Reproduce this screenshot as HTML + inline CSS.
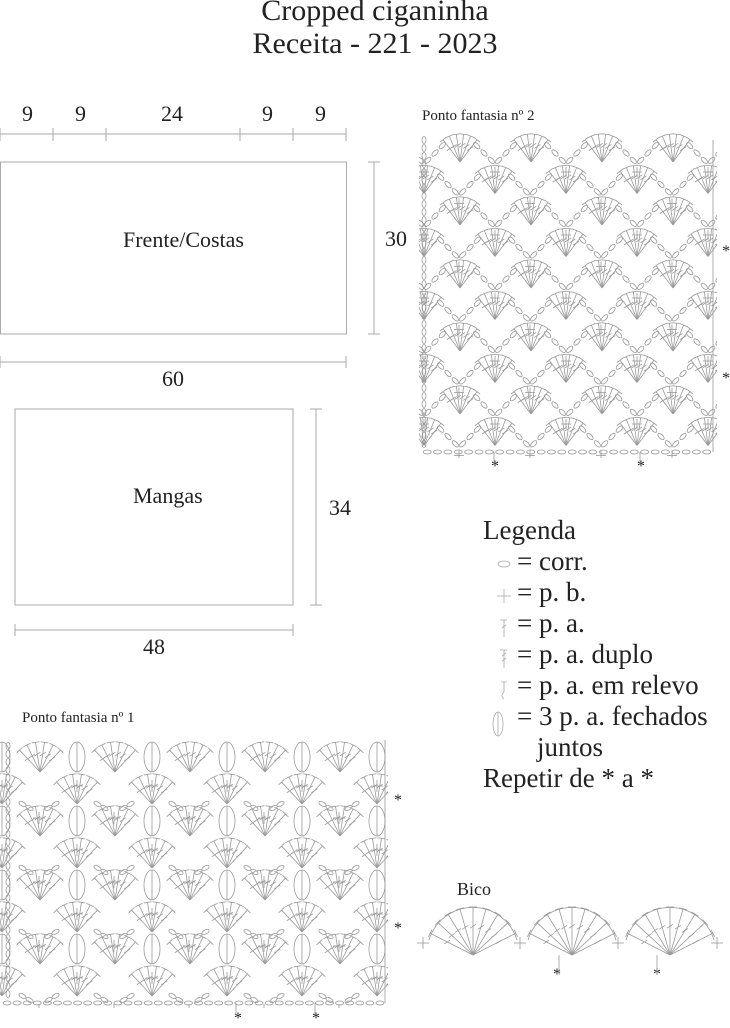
<!DOCTYPE html>
<html><head><meta charset="utf-8">
<style>
body{margin:0;background:#fff;width:730px;height:1024px;overflow:hidden;position:relative;font-family:"Liberation Serif",serif;color:#222}
.t{position:absolute;white-space:nowrap}
svg{position:absolute;left:0;top:0}
</style></head><body>
<div class="t" style="left:0;width:750px;text-align:center;top:-6px;font-size:30px;line-height:33px">Cropped ciganinha<br>Receita - 221 - 2023</div>
<div class="t" style="left:22px;top:101px;font-size:22px">9</div>
<div class="t" style="left:75px;top:101px;font-size:22px">9</div>
<div class="t" style="left:161px;top:101px;font-size:22px">24</div>
<div class="t" style="left:262px;top:101px;font-size:22px">9</div>
<div class="t" style="left:315px;top:101px;font-size:22px">9</div>
<div class="t" style="left:123px;top:227px;font-size:22px">Frente/Costas</div>
<div class="t" style="left:385px;top:226px;font-size:22px">30</div>
<div class="t" style="left:162px;top:366px;font-size:22px">60</div>
<div class="t" style="left:133px;top:483px;font-size:22px">Mangas</div>
<div class="t" style="left:329px;top:495px;font-size:22px">34</div>
<div class="t" style="left:143px;top:634px;font-size:22px">48</div>
<div class="t" style="left:422px;top:108px;font-size:15px">Ponto fantasia nº 2</div>
<div class="t" style="left:22px;top:710px;font-size:15px">Ponto fantasia nº 1</div>
<div class="t" style="left:457px;top:879px;font-size:18px">Bico</div>
<div class="t" style="left:483px;top:515px;font-size:27px;line-height:31px">Legenda<br>
<span style="padding-left:34px">= corr.</span><br>
<span style="padding-left:34px">= p. b.</span><br>
<span style="padding-left:34px">= p. a.</span><br>
<span style="padding-left:34px">= p. a. duplo</span><br>
<span style="padding-left:34px">= p. a. em relevo</span><br>
<span style="padding-left:34px">= 3 p. a. fechados</span><br>
<span style="padding-left:54px">juntos</span><br>
Repetir de * a *</div>
<div class="t" style="left:491px;top:458px;font-size:16px">*</div>
<div class="t" style="left:637px;top:458px;font-size:16px">*</div>
<div class="t" style="left:722px;top:243px;font-size:16px">*</div>
<div class="t" style="left:722px;top:370px;font-size:16px">*</div>
<div class="t" style="left:394px;top:792px;font-size:16px">*</div>
<div class="t" style="left:394px;top:920px;font-size:16px">*</div>
<div class="t" style="left:234px;top:1010px;font-size:16px">*</div>
<div class="t" style="left:312px;top:1010px;font-size:16px">*</div>
<div class="t" style="left:553px;top:966px;font-size:16px">*</div>
<div class="t" style="left:653px;top:966px;font-size:16px">*</div>
<svg id="s" width="730" height="1024" fill="none" stroke="#999" stroke-width="0.8">
<defs>
<clipPath id="c2"><rect x="419" y="128" width="298" height="330"/></clipPath>
<clipPath id="c1"><rect x="0" y="732" width="388" height="276"/></clipPath>
</defs>
<g stroke="#aaa" stroke-width="1">
<line x1="0" y1="134" x2="346" y2="134"/>
<line x1="0" y1="128" x2="0" y2="141"/><line x1="53" y1="128" x2="53" y2="141"/><line x1="106" y1="128" x2="106" y2="141"/><line x1="240" y1="128" x2="240" y2="141"/><line x1="293" y1="128" x2="293" y2="141"/><line x1="346" y1="128" x2="346" y2="141"/>
<rect x="0.5" y="162" width="346" height="172"/>
<line x1="374" y1="162" x2="374" y2="334"/><line x1="368" y1="162" x2="380" y2="162"/><line x1="368" y1="334" x2="380" y2="334"/>
<line x1="0" y1="362" x2="346" y2="362"/><line x1="0" y1="356" x2="0" y2="368"/><line x1="346" y1="356" x2="346" y2="368"/>
<rect x="15" y="409" width="278" height="196"/>
<line x1="316" y1="409" x2="316" y2="605"/><line x1="310" y1="409" x2="322" y2="409"/><line x1="310" y1="605" x2="322" y2="605"/>
<line x1="15" y1="630" x2="293" y2="630"/><line x1="15" y1="624" x2="15" y2="636"/><line x1="293" y1="624" x2="293" y2="636"/>
</g>
<g id="g2" clip-path="url(#c2)"></g>
<g id="g1" clip-path="url(#c1)"></g>
<g id="g3"></g>
<g stroke="#aaa">
<ellipse cx="504" cy="564" rx="6" ry="3"/>
<line x1="497" y1="596" x2="511" y2="596"/><line x1="504" y1="589" x2="504" y2="603"/>
<line x1="500" y1="620" x2="507" y2="620"/><line x1="504" y1="620" x2="504" y2="637"/><line x1="502" y1="628" x2="506" y2="625"/>
<line x1="500" y1="650" x2="507" y2="650"/><line x1="504" y1="650" x2="504" y2="668"/><line x1="502" y1="656" x2="506" y2="653"/><line x1="502" y1="661" x2="506" y2="658"/>
<path d="M501 682 H507 M504 682 V692 Q500 696 504 699"/>
<ellipse cx="498" cy="724" rx="5" ry="12"/><line x1="498" y1="712" x2="498" y2="736"/>
</g>
</svg>
<script>
var g,ns='http://www.w3.org/2000/svg';
function el(n,a){var e=document.createElementNS(ns,n);for(var k in a)e.setAttribute(k,a[k]);g.appendChild(e);return e;}
function L(x1,y1,x2,y2){el('line',{x1:x1,y1:y1,x2:x2,y2:y2});}
function plus(x,y,s){L(x-s,y,x+s,y);L(x,y-s,x,y+s);}
function fan(cx,by,r,n,spread){for(var i=0;i<n;i++){var a=-Math.PI/2+spread*(i/(n-1)-0.5);var x=cx+r*Math.cos(a),y=by+r*Math.sin(a);L(cx,by,x,y);var px=-Math.sin(a)*4,py=Math.cos(a)*4;L(x-px,y-py,x+px,y+py);var mx=cx+r*0.6*Math.cos(a),my=by+r*0.6*Math.sin(a);L(mx-3,my+2,mx+3,my-2);}}
function oval(x,y,ang,rx,ry){el('ellipse',{cx:x,cy:y,rx:rx||4,ry:ry||2,transform:'rotate('+ang+' '+x+' '+y+')'});}
function chain(x1,y1,x2,y2,n){var ang=Math.atan2(y2-y1,x2-x1)*180/Math.PI;for(var i=0;i<n;i++){var t=(i+0.5)/n;oval(x1+(x2-x1)*t,y1+(y2-y1)*t,ang);}}
// chart 2
g=document.getElementById('g2');
for(var r=0;r<10;r++){var by=162+r*31.5,off=(r%2)?35:0;
 for(var k=-1;k<5;k++){var cx=460+off+k*71;
  fan(cx,by,28,6,1.3);
  var x=cx+35;
  chain(x-22,by-20,x,by+2,3);chain(x,by+2,x+22,by-20,3);plus(x,by+10,5);}
 }
chain(422,452,712,452,28);
for(var y=140;y<450;y+=8)el('ellipse',{cx:424,cy:y,rx:2,ry:3.5});
L(713,140,713,452);
// chart 1
g=document.getElementById('g1');
for(var r=0;r<8;r++){var by=772+r*32,off=(r%2)?37:0;
 for(var k=-1;k<6;k++){var cx=40+off+k*75;
  fan(cx,by,30,6,1.5);
  var x=cx+37;
  if(r%2==0){el('ellipse',{cx:x,cy:by-15,rx:8,ry:15});L(x,by-30,x,by);}
  else{chain(x-20,by-2,x-6,by+6,2);chain(x+6,by+6,x+20,by-2,2);}
  plus(x,by+14,6);}
 for(var y=by-26;y<by;y+=8)el('ellipse',{cx:8,cy:y,rx:2,ry:3.5});}
chain(2,1003,385,1003,38);
L(385,740,385,1003);
// bico
g=document.getElementById('g3');
[473,572,670].forEach(function(cx){fan(cx,955,48,9,2.2);el('path',{d:'M'+(cx-44)+' 940 A46 46 0 0 1 '+(cx+44)+' 940'});});
[423,520,618,717].forEach(function(x){plus(x,943,6);});
L(559,955,559,975);L(657,955,657,975);
L(494,452,494,465);L(640,452,640,465);
L(236,1003,236,1015);L(315,1003,315,1015);
</script>
</body></html>
